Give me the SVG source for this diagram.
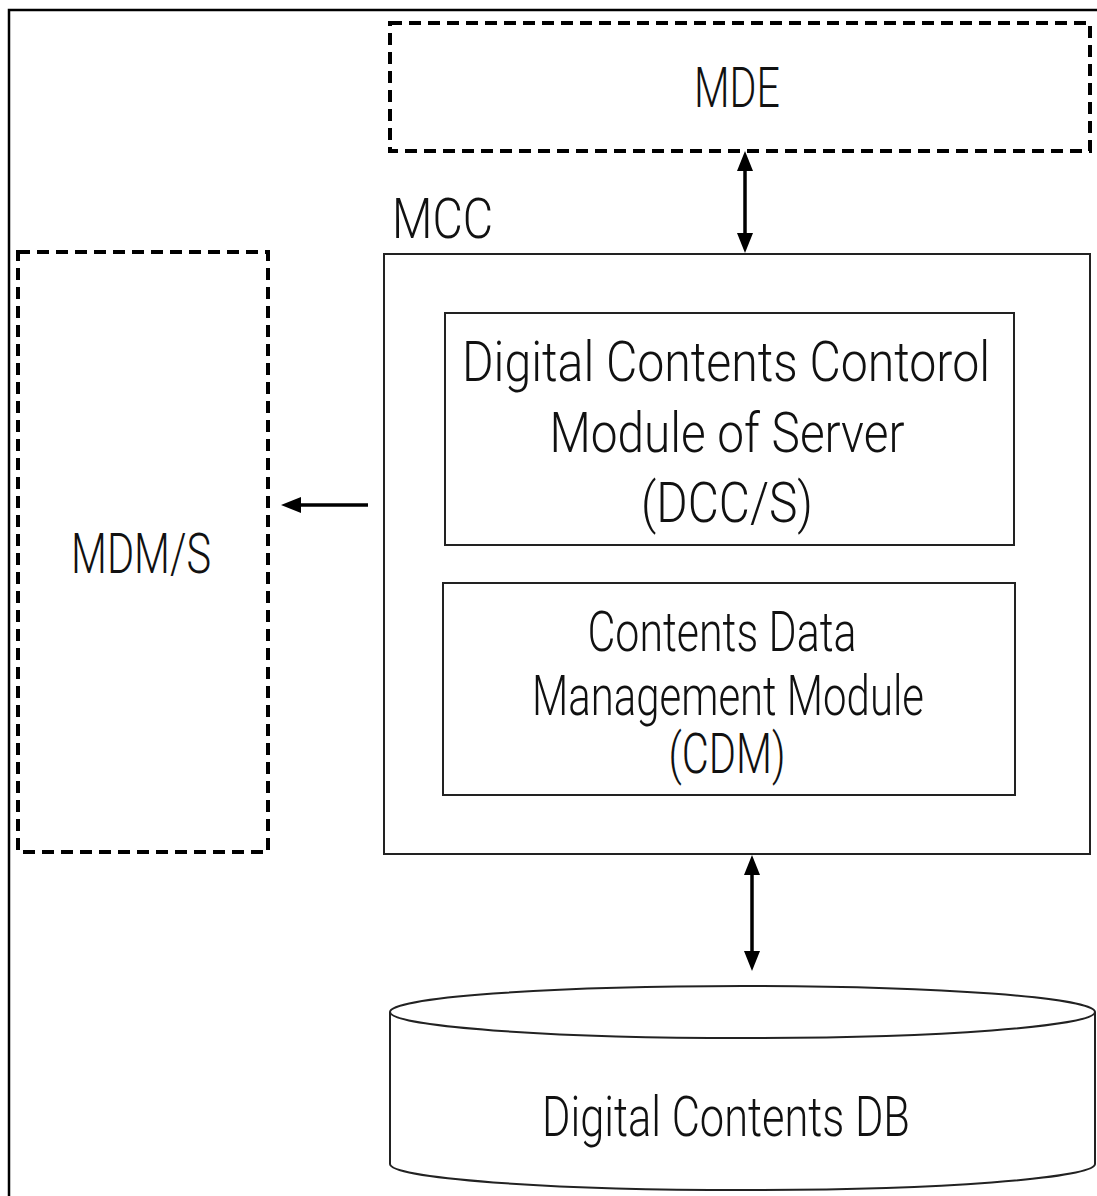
<svg xmlns="http://www.w3.org/2000/svg" width="1097" height="1196" viewBox="0 0 1097 1196">
  <style>
    .frame { fill: none; stroke: #000; stroke-width: 2.5; }
    .box { fill: #fff; stroke: #222; stroke-width: 2; }
    .dash { fill: none; stroke: #000; stroke-width: 4; stroke-dasharray: 12 7; }
    .lbl { font-family: Roboto, "Liberation Sans", Arial, sans-serif; font-weight: 300; font-size: 55px; fill: #111; }
    .mid { text-anchor: middle; }
    .conn { stroke: #000; stroke-width: 3.5; fill: none; }
  </style>
  <defs>
    <marker id="head" viewBox="0 0 20 16" markerWidth="20" markerHeight="16" refX="2" refY="8" markerUnits="userSpaceOnUse" orient="auto-start-reverse">
      <path d="M0,0 L20,8 L0,16 z" fill="#000"/>
    </marker>
  </defs>

  <rect width="1097" height="1196" fill="#fff"/>
  <!-- outer frame, open to the right and bottom -->
  <path class="frame" d="M9,1196 V10 H1097"/>

  <g id="mde">
    <rect class="dash" x="390" y="23" width="700" height="128"/>
    <text class="lbl mid" x="737" y="107" textLength="86" lengthAdjust="spacingAndGlyphs">MDE</text>
  </g>

  <g id="mdms">
    <rect class="dash" x="18" y="252" width="250" height="600"/>
    <text class="lbl mid" x="141" y="573" textLength="140" lengthAdjust="spacingAndGlyphs">MDM/S</text>
  </g>

  <g id="mcc">
    <text class="lbl" x="392" y="238" font-size="58" textLength="101" lengthAdjust="spacingAndGlyphs">MCC</text>
    <rect class="box" x="384" y="254" width="706" height="600" stroke-width="1.5"/>
  </g>

  <g id="dccs">
    <rect class="box" x="445" y="313" width="569" height="232"/>
    <text class="lbl mid" x="726" y="381" textLength="528" lengthAdjust="spacingAndGlyphs">Digital Contents Contorol</text>
    <text class="lbl mid" x="727" y="452" textLength="355" lengthAdjust="spacingAndGlyphs">Module of Server</text>
    <text class="lbl mid" x="727" y="522" textLength="172" lengthAdjust="spacingAndGlyphs">(DCC/S)</text>
  </g>

  <g id="cdm">
    <rect class="box" x="443" y="583" width="572" height="212"/>
    <text class="lbl mid" x="722" y="651" textLength="269" lengthAdjust="spacingAndGlyphs">Contents Data</text>
    <text class="lbl mid" x="728" y="715" textLength="392" lengthAdjust="spacingAndGlyphs">Management Module</text>
    <text class="lbl mid" x="727" y="773" textLength="117" lengthAdjust="spacingAndGlyphs">(CDM)</text>
  </g>

  <g id="db">
    <path class="box" d="M390,1012 V1164 A352.5,26 0 0 0 1095,1164 V1012"/>
    <ellipse class="box" cx="742.5" cy="1012" rx="352.5" ry="26"/>
    <text class="lbl mid" x="726" y="1136" textLength="368" lengthAdjust="spacingAndGlyphs">Digital Contents DB</text>
  </g>

  <g id="connectors">
    <line class="conn" x1="745" y1="169" x2="745" y2="235" marker-start="url(#head)" marker-end="url(#head)"/>
    <line class="conn" x1="368" y1="505" x2="299" y2="505" marker-end="url(#head)"/>
    <line class="conn" x1="752" y1="873" x2="752" y2="953" marker-start="url(#head)" marker-end="url(#head)"/>
  </g>
</svg>
